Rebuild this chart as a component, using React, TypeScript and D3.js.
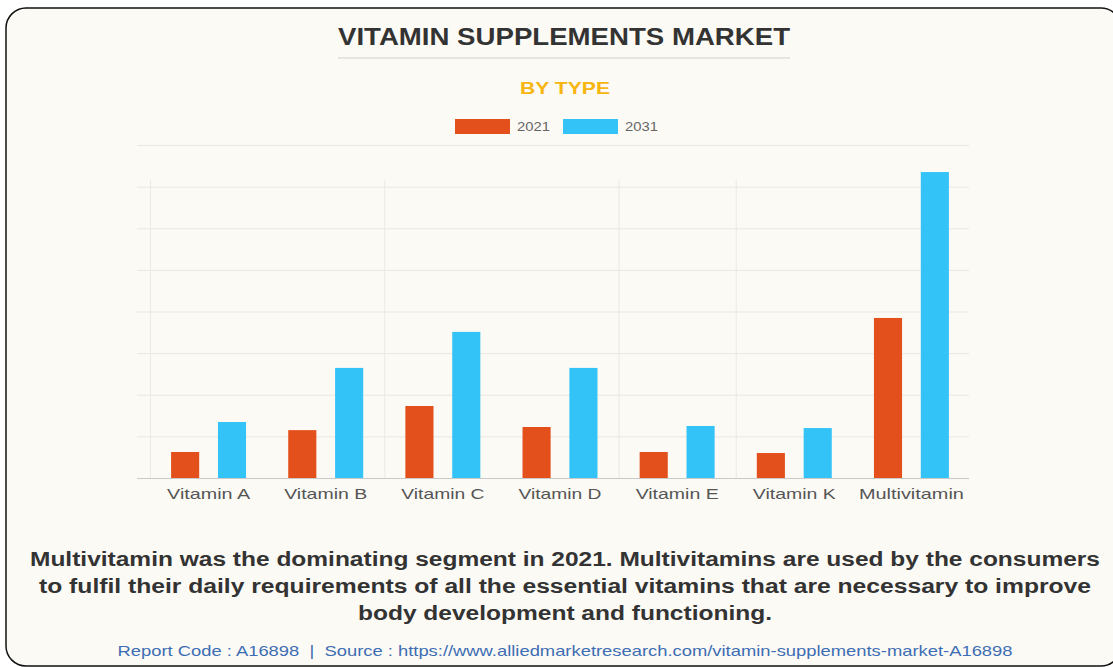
import React, { useEffect, useRef } from 'react';
import * as d3 from 'd3';

const categories = ['Vitamin A', 'Vitamin B', 'Vitamin C', 'Vitamin D', 'Vitamin E', 'Vitamin K', 'Multivitamin'];
const values2021 = [625, 1150, 1730, 1225, 625, 600, 3845];
const values2031 = [1345, 2645, 3510, 2645, 1250, 1200, 7350];
const seriesNames = ['2021', '2031'];
const yTicks = [0, 1000, 2000, 3000, 4000, 5000, 6000, 7000, 8000];

const captionLines = [
  'Multivitamin was the dominating segment in 2021. Multivitamins are used by the consumers',
  'to fulfil their daily requirements of all the essential vitamins that are necessary to improve',
  'body development and functioning.',
];
const footer = 'Report Code : A16898  |  Source : https://www.alliedmarketresearch.com/vitamin-supplements-market-A16898';

const colors = ['#e4501b', '#33c3f7'];
const FONT = '"Liberation Sans", Arial, sans-serif';

const App: React.FC = () => {
  const ref = useRef<SVGSVGElement>(null);

  useEffect(() => {
    const svg = d3.select(ref.current!);
    svg.selectAll('*').remove();

    const W = 1113;
    const H = 667;

    // page + card
    svg.append('rect').attr('width', W).attr('height', H).attr('fill', '#ffffff');
    svg
      .append('rect')
      .attr('x', 6)
      .attr('y', 8)
      .attr('width', 1115)
      .attr('height', 658)
      .attr('rx', 20)
      .attr('fill', '#fcfaf5')
      .attr('stroke', '#111')
      .attr('stroke-width', 1.5);

    // title
    svg
      .append('text')
      .attr('x', 564)
      .attr('y', 45)
      .attr('text-anchor', 'middle')
      .attr('font-family', FONT)
      .attr('font-weight', 'bold')
      .attr('font-size', 23)
      .attr('fill', '#333')
      .attr('textLength', 452)
      .attr('lengthAdjust', 'spacingAndGlyphs')
      .text('VITAMIN SUPPLEMENTS MARKET');
    svg.append('line').attr('x1', 338).attr('x2', 790).attr('y1', 58).attr('y2', 58).attr('stroke', '#cfcfcf');

    svg
      .append('text')
      .attr('x', 565)
      .attr('y', 94)
      .attr('text-anchor', 'middle')
      .attr('font-family', FONT)
      .attr('font-weight', 'bold')
      .attr('font-size', 17)
      .attr('fill', '#f6b50f')
      .attr('textLength', 90)
      .attr('lengthAdjust', 'spacingAndGlyphs')
      .text('BY TYPE');

    // legend
    const legendX = [455, 563];
    seriesNames.forEach((name, i) => {
      svg.append('rect').attr('x', legendX[i]).attr('y', 119).attr('width', 55).attr('height', 15).attr('fill', colors[i]);
      svg
        .append('text')
        .attr('x', legendX[i] + 62)
        .attr('y', 131)
        .attr('font-family', FONT)
        .attr('font-size', 13)
        .attr('fill', '#666')
        .attr('textLength', 33)
        .attr('lengthAdjust', 'spacingAndGlyphs')
        .text(name);
    });

    // scales
    const margin = { left: 150, right: 143, top: 145, bottom: 189 };
    const x = d3.scaleBand<string>().domain(categories).range([margin.left, W - margin.right]);
    const x1 = d3.scaleBand<string>().domain(seriesNames).range([0, x.bandwidth()]).paddingInner(0.4).paddingOuter(0.45);
    const y = d3.scaleLinear().domain([0, 8000]).range([H - margin.bottom, margin.top]);

    // grid
    const grid = svg.append('g');
    grid
      .selectAll('line.h')
      .data(yTicks.slice(1))
      .enter()
      .append('line')
      .attr('x1', 137)
      .attr('x2', 969)
      .attr('y1', (d) => y(d) + 0.5)
      .attr('y2', (d) => y(d) + 0.5)
      .attr('stroke', '#e9e7e2');
    grid
      .selectAll('line.v')
      .data([0, 2, 4, 5])
      .enter()
      .append('line')
      .attr('x1', (i) => (x(categories[i]) as number) + 0.5)
      .attr('x2', (i) => (x(categories[i]) as number) + 0.5)
      .attr('y1', 180)
      .attr('y2', 478)
      .attr('stroke', '#ebe9e4');

    // bars
    const groups = svg
      .append('g')
      .selectAll('g')
      .data(categories)
      .enter()
      .append('g')
      .attr('transform', (d) => `translate(${x(d)},0)`);
    groups
      .selectAll('rect')
      .data((_d, i) => [values2021[i], values2031[i]])
      .enter()
      .append('rect')
      .attr('x', (_v, j) => x1(seriesNames[j]) as number)
      .attr('width', x1.bandwidth())
      .attr('y', (v) => y(v))
      .attr('height', (v) => y(0) - y(v))
      .attr('fill', (_v, j) => colors[j]);

    // x axis
    const xAxis = svg
      .append('g')
      .attr('transform', `translate(0,${y(0)})`)
      .call(d3.axisBottom(x).tickSize(0).tickPadding(10));
    xAxis.select('.domain').remove();
    xAxis
      .append('line')
      .attr('x1', 137)
      .attr('x2', 969)
      .attr('y1', 0.5)
      .attr('y2', 0.5)
      .attr('stroke', '#c9c9c9');
    xAxis
      .selectAll('text')
      .attr('font-family', FONT)
      .attr('font-size', 15)
      .attr('fill', '#555')
      .attr('textLength', (d) => ((d as string) === 'Multivitamin' ? 105 : 83))
      .attr('lengthAdjust', 'spacingAndGlyphs');

    // caption
    const capWidths = [1070, 1052, 414];
    captionLines.forEach((line, i) => {
      svg
        .append('text')
        .attr('x', 565)
        .attr('y', 566 + i * 27)
        .attr('text-anchor', 'middle')
        .attr('font-family', FONT)
        .attr('font-weight', 'bold')
        .attr('font-size', 20)
        .attr('fill', '#333')
        .attr('textLength', capWidths[i])
        .attr('lengthAdjust', 'spacingAndGlyphs')
        .text(line);
    });

    svg
      .append('text')
      .attr('x', 565)
      .attr('y', 656)
      .attr('text-anchor', 'middle')
      .attr('font-family', FONT)
      .attr('font-size', 15)
      .attr('fill', '#3d6db3')
      .attr('textLength', 895)
      .attr('lengthAdjust', 'spacingAndGlyphs')
      .attr('xml:space', 'preserve')
      .style('white-space', 'pre')
      .text(footer);
  }, []);

  return (
    <svg
      ref={ref}
      width={1113}
      height={667}
      style={{ position: 'absolute', left: 0, top: 0, display: 'block' }}
    />
  );
};

export default App;
